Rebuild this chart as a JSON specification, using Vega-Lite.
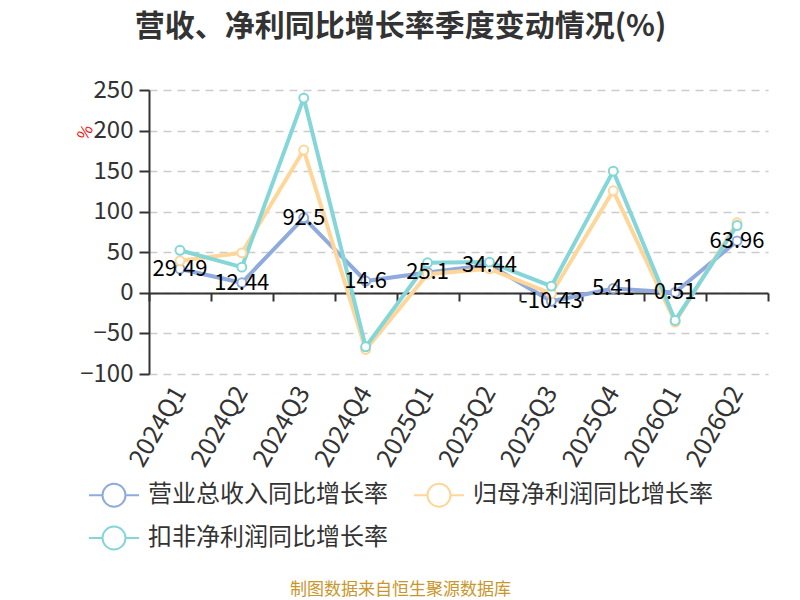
{
  "$schema": "https://vega.github.io/schema/vega-lite/v6.json",
  "autosize": "none",
  "padding": {"left": 149, "top": 90, "right": 32, "bottom": 226},
  "width": 619,
  "height": 284,
  "background": "white",
  "title": {
    "text": "营收、净利同比增长率季度变动情况(%)",
    "anchor": "middle",
    "frame": "group",
    "dx": -58,
    "offset": 36,
    "font": "Noto Sans CJK SC",
    "fontSize": 30,
    "fontWeight": "bold",
    "color": "#333333"
  },
  "config": {
    "view": {"stroke": null},
    "font": "Noto Sans CJK SC"
  },
  "data": {
    "values": [
      {"quarter": "2024Q1", "series": "营业总收入同比增长率", "value": 29.49},
      {"quarter": "2024Q2", "series": "营业总收入同比增长率", "value": 12.44},
      {"quarter": "2024Q3", "series": "营业总收入同比增长率", "value": 92.5},
      {"quarter": "2024Q4", "series": "营业总收入同比增长率", "value": 14.6},
      {"quarter": "2025Q1", "series": "营业总收入同比增长率", "value": 25.1},
      {"quarter": "2025Q2", "series": "营业总收入同比增长率", "value": 34.44},
      {"quarter": "2025Q3", "series": "营业总收入同比增长率", "value": -10.43},
      {"quarter": "2025Q4", "series": "营业总收入同比增长率", "value": 5.41},
      {"quarter": "2026Q1", "series": "营业总收入同比增长率", "value": 0.51},
      {"quarter": "2026Q2", "series": "营业总收入同比增长率", "value": 63.96},
      {"quarter": "2024Q1", "series": "归母净利润同比增长率", "value": 39.5},
      {"quarter": "2024Q2", "series": "归母净利润同比增长率", "value": 49.3},
      {"quarter": "2024Q3", "series": "归母净利润同比增长率", "value": 176},
      {"quarter": "2024Q4", "series": "归母净利润同比增长率", "value": -69.8},
      {"quarter": "2025Q1", "series": "归母净利润同比增长率", "value": 23},
      {"quarter": "2025Q2", "series": "归母净利润同比增长率", "value": 29.6},
      {"quarter": "2025Q3", "series": "归母净利润同比增长率", "value": -1},
      {"quarter": "2025Q4", "series": "归母净利润同比增长率", "value": 125.8},
      {"quarter": "2026Q1", "series": "归母净利润同比增长率", "value": -36},
      {"quarter": "2026Q2", "series": "归母净利润同比增长率", "value": 86.3},
      {"quarter": "2024Q1", "series": "扣非净利润同比增长率", "value": 52.5},
      {"quarter": "2024Q2", "series": "扣非净利润同比增长率", "value": 31.7},
      {"quarter": "2024Q3", "series": "扣非净利润同比增长率", "value": 240},
      {"quarter": "2024Q4", "series": "扣非净利润同比增长率", "value": -66.5},
      {"quarter": "2025Q1", "series": "扣非净利润同比增长率", "value": 37},
      {"quarter": "2025Q2", "series": "扣非净利润同比增长率", "value": 37.9},
      {"quarter": "2025Q3", "series": "扣非净利润同比增长率", "value": 8.3},
      {"quarter": "2025Q4", "series": "扣非净利润同比增长率", "value": 150},
      {"quarter": "2026Q1", "series": "扣非净利润同比增长率", "value": -34},
      {"quarter": "2026Q2", "series": "扣非净利润同比增长率", "value": 83}
    ]
  },
  "resolve": {"axis": {"x": "independent"}},
  "layer": [
    {
      "mark": {"type": "line", "strokeWidth": 4},
      "encoding": {
        "x": {
          "field": "quarter",
          "type": "nominal",
          "sort": null,
          "scale": {"type": "band", "paddingInner": 0, "paddingOuter": 0},
          "axis": {
            "orient": "bottom",
            "domain": false,
            "ticks": false,
            "grid": false,
            "labelAngle": -60,
            "labelAlign": "right",
            "labelBaseline": "middle",
            "labelPadding": 14,
            "labelFontSize": 25,
            "labelColor": "#333333",
            "labelFont": "Noto Sans CJK SC",
            "title": "制图数据来自恒生聚源数据库",
            "titleX": 251,
            "titleY": 215,
            "titleAlign": "center",
            "titleBaseline": "middle",
            "titleFontSize": 17,
            "titleFontWeight": "normal",
            "titleColor": "#C9962B",
            "titleFont": "Noto Sans CJK SC"
          }
        },
        "y": {
          "field": "value",
          "type": "quantitative",
          "scale": {"domain": [-100, 250], "nice": false, "zero": false},
          "axis": {
            "values": [-100, -50, 0, 50, 100, 150, 200, 250],
            "domainColor": "#333333",
            "domainWidth": 2,
            "tickColor": "#333333",
            "tickWidth": 2,
            "tickSize": 10,
            "labelPadding": 6,
            "labelFontSize": 24,
            "labelColor": "#333333",
            "labelFont": "Noto Sans CJK SC",
            "grid": true,
            "gridColor": "#cccccc",
            "gridWidth": 1.5,
            "gridDash": [8, 6],
            "title": "%",
            "titleColor": "#ff0000",
            "titleFontSize": 16,
            "titleFontWeight": "normal",
            "titleAngle": -60,
            "titleX": -64,
            "titleY": 42,
            "titleAlign": "center",
            "titleBaseline": "middle"
          }
        },
        "color": {
          "field": "series",
          "type": "nominal",
          "scale": {
            "domain": ["营业总收入同比增长率", "归母净利润同比增长率", "扣非净利润同比增长率"],
            "range": ["#8FAADC", "#FFD699", "#84D6D8"]
          },
          "legend": {
            "orient": "none",
            "direction": "horizontal",
            "legendX": -61,
            "legendY": 379,
            "columns": 2,
            "title": null,
            "symbolType": "M-1,0H-0.46M0.46,0H1M-0.46,0A0.46,0.46,0,1,1,0.46,0A0.46,0.46,0,1,1,-0.46,0",
            "symbolSize": 2500,
            "symbolStrokeWidth": 2,
            "symbolFillColor": "#ffffff",
            "labelFontSize": 24,
            "labelColor": "#333333",
            "labelFont": "Noto Sans CJK SC",
            "labelOffset": 8,
            "labelLimit": 400,
            "columnPadding": 22,
            "rowPadding": 1
          }
        }
      }
    },
    {
      "mark": {"type": "point", "filled": false, "fill": "#ffffff", "strokeWidth": 2, "size": 80, "opacity": 1},
      "encoding": {
        "x": {
          "field": "quarter",
          "type": "nominal",
          "sort": null,
          "axis": {
            "orient": "bottom",
            "offset": -81,
            "labels": false,
            "grid": false,
            "domain": true,
            "domainColor": "#333333",
            "domainWidth": 2,
            "ticks": true,
            "tickBand": "extent",
            "tickColor": "#333333",
            "tickWidth": 2,
            "tickSize": 8,
            "title": null
          }
        },
        "y": {"field": "value", "type": "quantitative"},
        "color": {"field": "series", "type": "nominal"}
      }
    },
    {
      "transform": [{"filter": "datum.series === '营业总收入同比增长率'"}],
      "mark": {"type": "text", "fontSize": 22, "color": "#000000", "align": "center", "baseline": "middle", "font": "Noto Sans CJK SC"},
      "encoding": {
        "x": {"field": "quarter", "type": "nominal", "sort": null, "axis": null},
        "y": {"field": "value", "type": "quantitative"},
        "text": {"field": "value", "type": "nominal"}
      }
    }
  ]
}
